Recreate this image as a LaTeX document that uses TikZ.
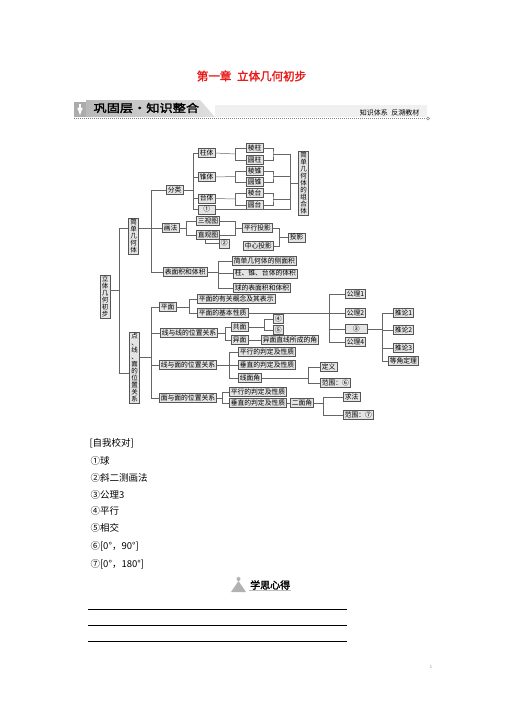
\documentclass[tikz,border=0pt]{standalone}
\usepackage{fontspec}
\setmainfont{Noto Sans CJK SC}[AutoFakeBold=2]
\usepackage{xcolor}
\usepackage{tikz}
\usetikzlibrary{positioning}
\definecolor{titlered}{RGB}{235,25,25}
\definecolor{boxfill}{RGB}{228,228,228}
\definecolor{boxline}{RGB}{85,85,85}

\tikzset{
  base/.style={draw=boxline, fill=boxfill, line width=0.5pt},
  kbox/.style={base, anchor=west, inner xsep=1.5pt, inner ysep=1pt,
    text height=5.6pt, text depth=1.2pt, font=\fontsize{6.8}{7.5}\selectfont},
  vbox/.style={base, anchor=north, align=center, text width=6.6pt,
    inner xsep=1.5pt, inner ysep=1pt, font=\fontsize{6.5}{7}\selectfont},
  link/.style={draw=boxline!90, line width=0.5pt},
  listtext/.style={anchor=west, font=\fontsize{9.5}{10}\selectfont},
}

\begin{document}
\begin{tikzpicture}[x=1pt,y=-1pt]
\useasboundingbox (0,0) rectangle (504,712);
% heading
\node[font=\fontsize{11.5}{12}\selectfont\bfseries, text=titlered] (title) at (251.5,76) {第一章\hspace{0.5em}立体几何初步};
\fill[gray!12] (215,105) rectangle (427,117);
\shade[left color=gray!55, right color=gray!25] (86,100) -- (200,100) -- (215,117) -- (86,117) -- cycle;
\fill[gray!65] (74,102) rectangle (86,117);
\draw[white, line width=1.6pt, -latex] (80,104) -- (80,115.5);
\node[anchor=west, font=\fontsize{11}{11}\selectfont\bfseries] (banner) at (90,108) {\scalebox{1.2}[1]{巩固层·知识整合}};
\node[anchor=east, font=\fontsize{7}{7}\selectfont] (sub) at (423,112.5) {知识体系\hspace{0.5em}反溯教材};
\draw[gray, dash pattern=on 1pt off 1pt] (74,118.5) -- (426,118.5);
\draw[gray] (428,118.5) circle (1.5);

% vertical boxes
\node[vbox] (ltjh) at (105,275) {立\\体\\几\\何\\初\\步};
\node[vbox] (jdjht) at (133.5,218) {简\\单\\几\\何\\体};
\node[vbox] (dxm) at (134.5,332) {点\\、\\线\\、\\面\\的\\位\\置\\关\\系};
\node[vbox] (zuhe) at (303.5,151) {简\\单\\几\\何\\体\\的\\组\\合\\体};

% 分类
\node[kbox] (fenlei) at (166,190) {分类};
\node[kbox] (zhuti) at (198,153) {柱体};
\node[kbox] (zhuiti) at (198,177) {锥体};
\node[kbox] (taiti) at (198,198.5) {台体};
\node[kbox, minimum width=17pt] (q1) at (198,209.5) {①};
\node[kbox] (lengzhu) at (246,148) {棱柱};
\node[kbox] (yuanzhu) at (246,160) {圆柱};
\node[kbox] (lengzhui) at (246,171) {棱锥};
\node[kbox] (yuanzhui) at (246,182) {圆锥};
\node[kbox] (lengtai) at (246,193) {棱台};
\node[kbox] (yuantai) at (246,205) {圆台};
\draw[link] (fenlei.east) -- (193,190) coordinate (jf);
\foreach \n in {zhuti,zhuiti,taiti,q1} \draw[link] (jf) |- (\n.west);
\coordinate (jzuhe) at (290,183.5);
\foreach \p/\a/\b/\y in {zhuti/lengzhu/yuanzhu/154, zhuiti/lengzhui/yuanzhui/176.5, taiti/lengtai/yuantai/199} {
  \draw[link] (\p.east) -- (235,\y) coordinate (l\p);
  \draw[link] (l\p) |- (\a.west);
  \draw[link] (l\p) |- (\b.west);
  \coordinate (r\p) at (273,\y);
  \draw[link] (\a.east) -| (r\p) |- (\b.east);
  \draw[link] (r\p) -| (jzuhe);
}
\draw[link] (q1.east) -| (jzuhe);
\draw[link] (jzuhe) -- (zuhe.west |- jzuhe);

% 画法
\node[kbox] (huafa) at (162,228) {画法};
\node[kbox] (sanshi) at (196,221) {三视图};
\node[kbox] (zhiguan) at (196,235) {直观图};
\node[kbox] (q2) at (219,243.5) {②};
\node[kbox] (pingxing) at (242,228) {平行投影};
\node[kbox] (zhongxin) at (243,246) {中心投影};
\node[kbox] (touying) at (288,237.5) {投影};
\coordinate (jh) at (186,228);
\draw[link] (huafa.east) -- (jh);
\draw[link] (jh) |- (sanshi.west);
\draw[link] (jh) |- (zhiguan.west);
\draw[link] ([xshift=-3]zhiguan.south) |- (q2.west);
\coordinate (js) at (235,228);
\draw[link] (sanshi.east) -| (js);
\draw[link] (zhiguan.east) -| (js);
\draw[link] (js) -- (pingxing.west);
\coordinate (jt) at (279,237.5);
\draw[link] (pingxing.east) -| (jt);
\draw[link] (zhongxin.east) -| (jt);
\draw[link] (jt) -- (touying.west);

% 表面积和体积
\node[kbox] (mianji) at (163,272) {表面积和体积};
\node[kbox] (cemian) at (232,261) {简单几何体的侧面积};
\node[kbox] (tiji) at (233,273.5) {柱、锥、台体的体积};
\node[kbox] (qiu) at (233,288) {球的表面积和体积};
\coordinate (jm) at (218,272);
\draw[link] (mianji.east) -- (jm);
\foreach \n in {cemian,tiji,qiu} \draw[link] (jm) |- (\n.west);

% 简单几何体
\coordinate (jj) at (151,228);
\draw[link] (jdjht.east |- jj) -- (huafa.west);
\draw[link] (jj) |- (fenlei.west);
\draw[link] (jj) |- (mianji.west);

% root
\coordinate (jr) at (119,290);
\draw[link] (ltjh.east |- jr) -- (jr);
\draw[link] (jr) |- (jdjht.west |- jj);
\draw[link] (jr) |- (dxm.west |- 0,373.5);

% 平面
\node[kbox] (pingmian) at (159,307) {平面};
\node[kbox] (gainian) at (197,299) {平面的有关概念及其表示};
\node[kbox] (xingzhi) at (197,313) {平面的基本性质};
\coordinate (jp) at (189,307);
\draw[link] (pingmian.east) -- (jp);
\draw[link] (jp) |- (gainian.west);
\draw[link] (jp) |- (xingzhi.west);
\node[kbox] (gl1) at (345,294) {公理1};
\node[kbox] (gl2) at (345,313) {公理2};
\node[kbox, minimum width=22pt] (q3) at (345,329) {③};
\node[kbox] (gl4) at (345,342) {公理4};
\coordinate (jg) at (329,313);
\draw[link] (xingzhi.east) -- (jg);
\foreach \n in {gl1,gl2,q3,gl4} \draw[link] (jg) |- (\n.west);
\node[kbox] (tl1) at (393,313) {推论1};
\node[kbox] (tl2) at (393,330) {推论2};
\node[kbox] (tl3) at (393,348) {推论3};
\node[kbox] (dengjiao) at (388,361) {等角定理};
\coordinate (j3) at (382,329);
\draw[link] (q3.east) -- (j3);
\foreach \n in {tl1,tl2,tl3,dengjiao} \draw[link] (j3) |- (\n.west);

% 线与线
\node[kbox] (xx) at (160,333) {线与线的位置关系};
\node[kbox] (gongmian) at (231,327) {共面};
\node[kbox] (yimian) at (231,340) {异面};
\node[kbox] (q4) at (273,319) {④};
\node[kbox] (q5) at (273,330) {⑤};
\node[kbox] (yijiao) at (261,340) {异面直线所成的角};
\coordinate (jx) at (225,333);
\draw[link] (xx.east) -- (jx);
\draw[link] (jx) |- (gongmian.west);
\draw[link] (jx) |- (yimian.west);
\coordinate (jgm) at (264,327);
\draw[link] (gongmian.east) -- (jgm);
\draw[link] (jgm) |- (q4.west);
\draw[link] (jgm) |- (q5.west);
\draw[link] (yimian.east) -- (yijiao.west);

% 线与面
\node[kbox] (xm) at (159,365) {线与面的位置关系};
\node[kbox] (xmpx) at (238,352) {平行的判定及性质};
\node[kbox] (xmcz) at (238,365) {垂直的判定及性质};
\node[kbox] (xmj) at (238,378) {线面角};
\node[kbox] (dingyi) at (320,367) {定义};
\node[kbox] (fw6) at (320,383) {范围：⑥};
\coordinate (jxm) at (229,365);
\draw[link] (xm.east) -- (xmcz.west);
\draw[link] (jxm) |- (xmpx.west);
\draw[link] (jxm) |- (xmj.west);
\coordinate (jxj) at (308,378);
\draw[link] (xmj.east) -- (jxj);
\draw[link] (jxj) |- (dingyi.west);
\draw[link] (jxj) |- (fw6.west);

% 面与面
\node[kbox] (mm) at (159,398) {面与面的位置关系};
\node[kbox] (mmpx) at (229,392) {平行的判定及性质};
\node[kbox] (mmcz) at (229,403) {垂直的判定及性质};
\node[kbox] (erm) at (290,403) {二面角};
\node[kbox] (qiufa) at (343,397) {求法};
\node[kbox] (fw7) at (343,415) {范围：⑦};
\coordinate (jmm) at (222,398);
\draw[link] (mm.east) -- (jmm);
\draw[link] (jmm) |- (mmpx.west);
\draw[link] (jmm) |- (mmcz.west);
\draw[link] (mmcz.east) -- (erm.west);
\coordinate (je) at (323,403);
\draw[link] (erm.east) -- (je);
\draw[link] (je) |- (qiufa.west);
\draw[link] (je) |- (fw7.west);

% 点线面
\coordinate (jd) at (151,357);
\draw[link] (dxm.east |- jd) -- (jd);
\foreach \n in {pingmian,xx,xm,mm} \draw[link] (jd) |- (\n.west);

% 自我校对
\node[listtext] (jiaodui) at (86,443) {[自我校对]};
\node[listtext] (a1) at (87,461) {①球};
\node[listtext] (a2) at (87,477.5) {②斜二测画法};
\node[listtext] (a3) at (87,494.5) {③公理3};
\node[listtext] (a4) at (87,511) {④平行};
\node[listtext] (a5) at (87,528) {⑤相交};
\node[listtext] (a6) at (87,546) {⑥[0°，90°]};
\node[listtext] (a7) at (87,564) {⑦[0°，180°]};

% 学思心得
\fill[gray!60] (231,592) -- (238.5,581) -- (246,592) -- cycle;
\fill[gray!60] (238.5,579) circle (2);
\node[anchor=west, font=\fontsize{10}{10}\selectfont\bfseries, inner sep=1pt] (xsxd) at (249,585) {学思心得};
\draw[gray!50, line width=1pt] (xsxd.south west) -- (xsxd.south east);
\foreach \y in {609,625,641} \draw[line width=0.9pt] (88,\y) -- (347,\y);
% page number
\node[text=gray, font=\fontsize{4}{4}\selectfont, inner sep=0pt] (pagenum) at (431,667) {1};
\end{tikzpicture}
\end{document}
